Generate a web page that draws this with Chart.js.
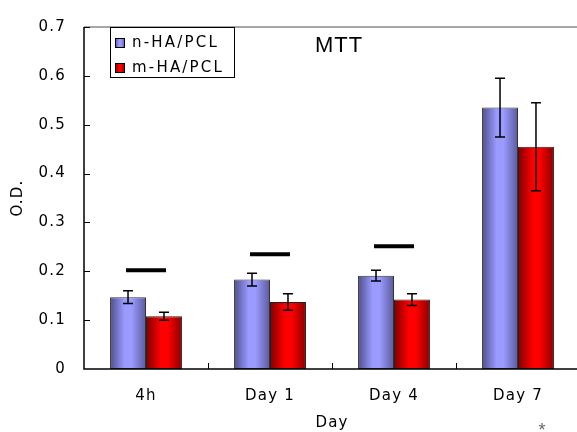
<!DOCTYPE html>
<html><head><meta charset="utf-8">
<style>html,body{margin:0;padding:0;overflow:hidden;background:#fff}canvas{display:block}</style>
<script src="https://cdn.jsdelivr.net/npm/chart.js@4"></script>
</head><body>
<canvas id="c" width="580" height="432"></canvas>
<script>
const categories = ['4h', 'Day 1', 'Day 4', 'Day 7'];
const seriesNames = ['n-HA/PCL', 'm-HA/PCL'];
const nValues = [0.147, 0.183, 0.191, 0.535];
const mValues = [0.108, 0.137, 0.142, 0.455];
const nErrors = [0.013, 0.013, 0.011, 0.060];
const mErrors = [0.008, 0.017, 0.012, 0.090];
const sigLevels = [0.202, 0.235, 0.251, null];
const yTickValues = [0, 0.1, 0.2, 0.3, 0.4, 0.5, 0.6, 0.7];
const yTitle = 'O.D.';
const xTitle = 'Day';
const chartTitle = 'MTT';
const footnote = '*';

const FONT = '"DejaVu Sans", "Liberation Sans", sans-serif';
const TFONT = '"Liberation Sans", Arial, sans-serif';
const errorSets = [nErrors, mErrors];

function blueGrad(ctx, x0, x1) {
  const g = ctx.createLinearGradient(x0, 0, x1, 0);
  g.addColorStop(0, '#4e4e8a');
  g.addColorStop(0.4, '#9a9aff');
  g.addColorStop(0.6, '#9a9aff');
  g.addColorStop(1, '#5a5a9c');
  return g;
}
function redGrad(ctx, x0, x1) {
  const g = ctx.createLinearGradient(x0, 0, x1, 0);
  g.addColorStop(0, '#800000');
  g.addColorStop(0.42, '#ff0000');
  g.addColorStop(0.6, '#ff0000');
  g.addColorStop(1, '#8a0000');
  return g;
}
const grads = [blueGrad, redGrad];

const custom = {
  id: 'custom',
  beforeUpdate(chart) { chart.ctx.letterSpacing = '1.2px'; },
  beforeDraw(chart) {
    const ctx = chart.ctx;
    ctx.save();
    ctx.fillStyle = '#fff';
    ctx.fillRect(0, 0, chart.width, chart.height);
    ctx.restore();
    ctx.letterSpacing = '1.2px';
  },
  beforeDatasetsDraw(chart) {
    const ctx = chart.ctx;
    chart.data.datasets.forEach((ds, di) => {
      const meta = chart.getDatasetMeta(di);
      meta.data.forEach(el => {
        const g = grads[di](ctx, el.x - el.width / 2, el.x + el.width / 2);
        el.options = Object.assign({}, el.options, { backgroundColor: g });
      });
    });
  },
  afterDatasetsDraw(chart) {
    const ctx = chart.ctx;
    const y = chart.scales.y, x = chart.scales.x;
    ctx.save();
    ctx.strokeStyle = '#000';
    ctx.lineWidth = 1.5;
    chart.data.datasets.forEach((ds, di) => {
      const meta = chart.getDatasetMeta(di);
      meta.data.forEach((el, i) => {
        const v = ds.data[i], e = errorSets[di][i];
        const yt = y.getPixelForValue(v + e), yb = y.getPixelForValue(v - e);
        ctx.beginPath();
        ctx.moveTo(el.x, yt); ctx.lineTo(el.x, yb);
        ctx.moveTo(el.x - 5, yt); ctx.lineTo(el.x + 5, yt);
        ctx.moveTo(el.x - 5, yb); ctx.lineTo(el.x + 5, yb);
        ctx.stroke();
      });
    });
    ctx.lineWidth = 4;
    sigLevels.forEach((s, i) => {
      if (s == null) return;
      const cx = x.getPixelForValue(i), py = y.getPixelForValue(s);
      ctx.beginPath();
      ctx.moveTo(cx - 20, py); ctx.lineTo(cx + 20, py);
      ctx.stroke();
    });
    ctx.restore();
  },
  afterDraw(chart) {
    const ctx = chart.ctx;
    const a = chart.chartArea;
    const y = chart.scales.y, x = chart.scales.x;
    ctx.save();
    ctx.strokeStyle = '#888';
    ctx.lineWidth = 1.5;
    ctx.beginPath(); ctx.moveTo(a.left, a.top); ctx.lineTo(a.right, a.top); ctx.stroke();
    ctx.strokeStyle = '#000';
    ctx.beginPath();
    ctx.moveTo(a.left, a.top); ctx.lineTo(a.left, a.bottom); ctx.lineTo(a.right, a.bottom);
    ctx.stroke();
    ctx.lineWidth = 1;
    ctx.beginPath();
    yTickValues.forEach(v => {
      if (v === 0) return;
      const py = Math.round(y.getPixelForValue(v)) + 0.5;
      ctx.moveTo(a.left, py); ctx.lineTo(a.left + 6, py);
    });
    for (let i = 0; i < categories.length - 1; i++) {
      const px = Math.round((x.getPixelForValue(i) + x.getPixelForValue(i + 1)) / 2) + 0.5;
      ctx.moveTo(px, a.bottom); ctx.lineTo(px, a.bottom - 6);
    }
    ctx.stroke();

    // legend
    ctx.fillStyle = '#fff';
    ctx.fillRect(110.5, 27.5, 124, 50);
    ctx.strokeStyle = '#000';
    ctx.lineWidth = 1;
    ctx.strokeRect(110.5, 27.5, 124, 50);
    seriesNames.forEach((name, i) => {
      const sy = 38 + i * 25;
      ctx.fillStyle = grads[i](ctx, 115, 125);
      ctx.fillRect(115, sy, 10, 10);
      ctx.strokeStyle = '#000';
      ctx.strokeRect(115.5, sy + 0.5, 9, 9);
      ctx.fillStyle = '#000';
      ctx.font = '15px ' + FONT;
      ctx.letterSpacing = '2.2px';
      ctx.textAlign = 'left';
      ctx.textBaseline = 'middle';
      ctx.fillText(name, 132, sy + 5.5);
    });
    // title
    ctx.letterSpacing = '1px';
    ctx.font = '22px ' + TFONT;
    ctx.textAlign = 'center';
    ctx.fillText(chartTitle, 339, 46);
    // footnote
    ctx.letterSpacing = '0px';
    ctx.fillStyle = '#666';
    ctx.font = '18px ' + TFONT;
    ctx.textBaseline = 'alphabetic';
    ctx.fillText(footnote, 542, 436);
    ctx.restore();
  }
};

new Chart(document.getElementById('c'), {
  type: 'bar',
  data: {
    labels: categories,
    datasets: [
      { label: seriesNames[0], data: nValues, borderColor: '#333', borderWidth: 1, borderSkipped: false },
      { label: seriesNames[1], data: mValues, borderColor: '#222', borderWidth: 1, borderSkipped: false }
    ]
  },
  options: {
    responsive: false,
    animation: false,
    events: [],
    categoryPercentage: 0.58,
    barPercentage: 1.0,
    layout: { padding: { top: 16, right: 0, left: 0, bottom: 0 } },
    plugins: { legend: { display: false }, tooltip: { enabled: false }, title: { display: false } },
    scales: {
      x: {
        grid: { display: false, drawTicks: false },
        border: { display: false },
        ticks: { color: '#000', font: { family: FONT, size: 15 }, padding: 18, maxRotation: 0 },
        title: { display: true, text: xTitle, color: '#000', font: { family: FONT, size: 15 }, padding: { top: 0, bottom: 0 } },
        afterFit(s) { s.height = 63; }
      },
      y: {
        min: 0, max: 0.7,
        grid: { display: false, drawTicks: false },
        border: { display: false },
        afterBuildTicks(s) { s.ticks = yTickValues.map(v => ({ value: v })); },
        ticks: {
          color: '#000', font: { family: FONT, size: 15 }, padding: 18,
          callback: v => (v === 0 ? '0' : v.toFixed(1))
        },
        title: { display: true, text: yTitle, color: '#000', font: { family: FONT, size: 15 }, padding: { top: 9, bottom: 0 } },
        afterFit(s) { s.width = 84; }
      }
    }
  },
  plugins: [custom]
});
</script>
</body></html>
